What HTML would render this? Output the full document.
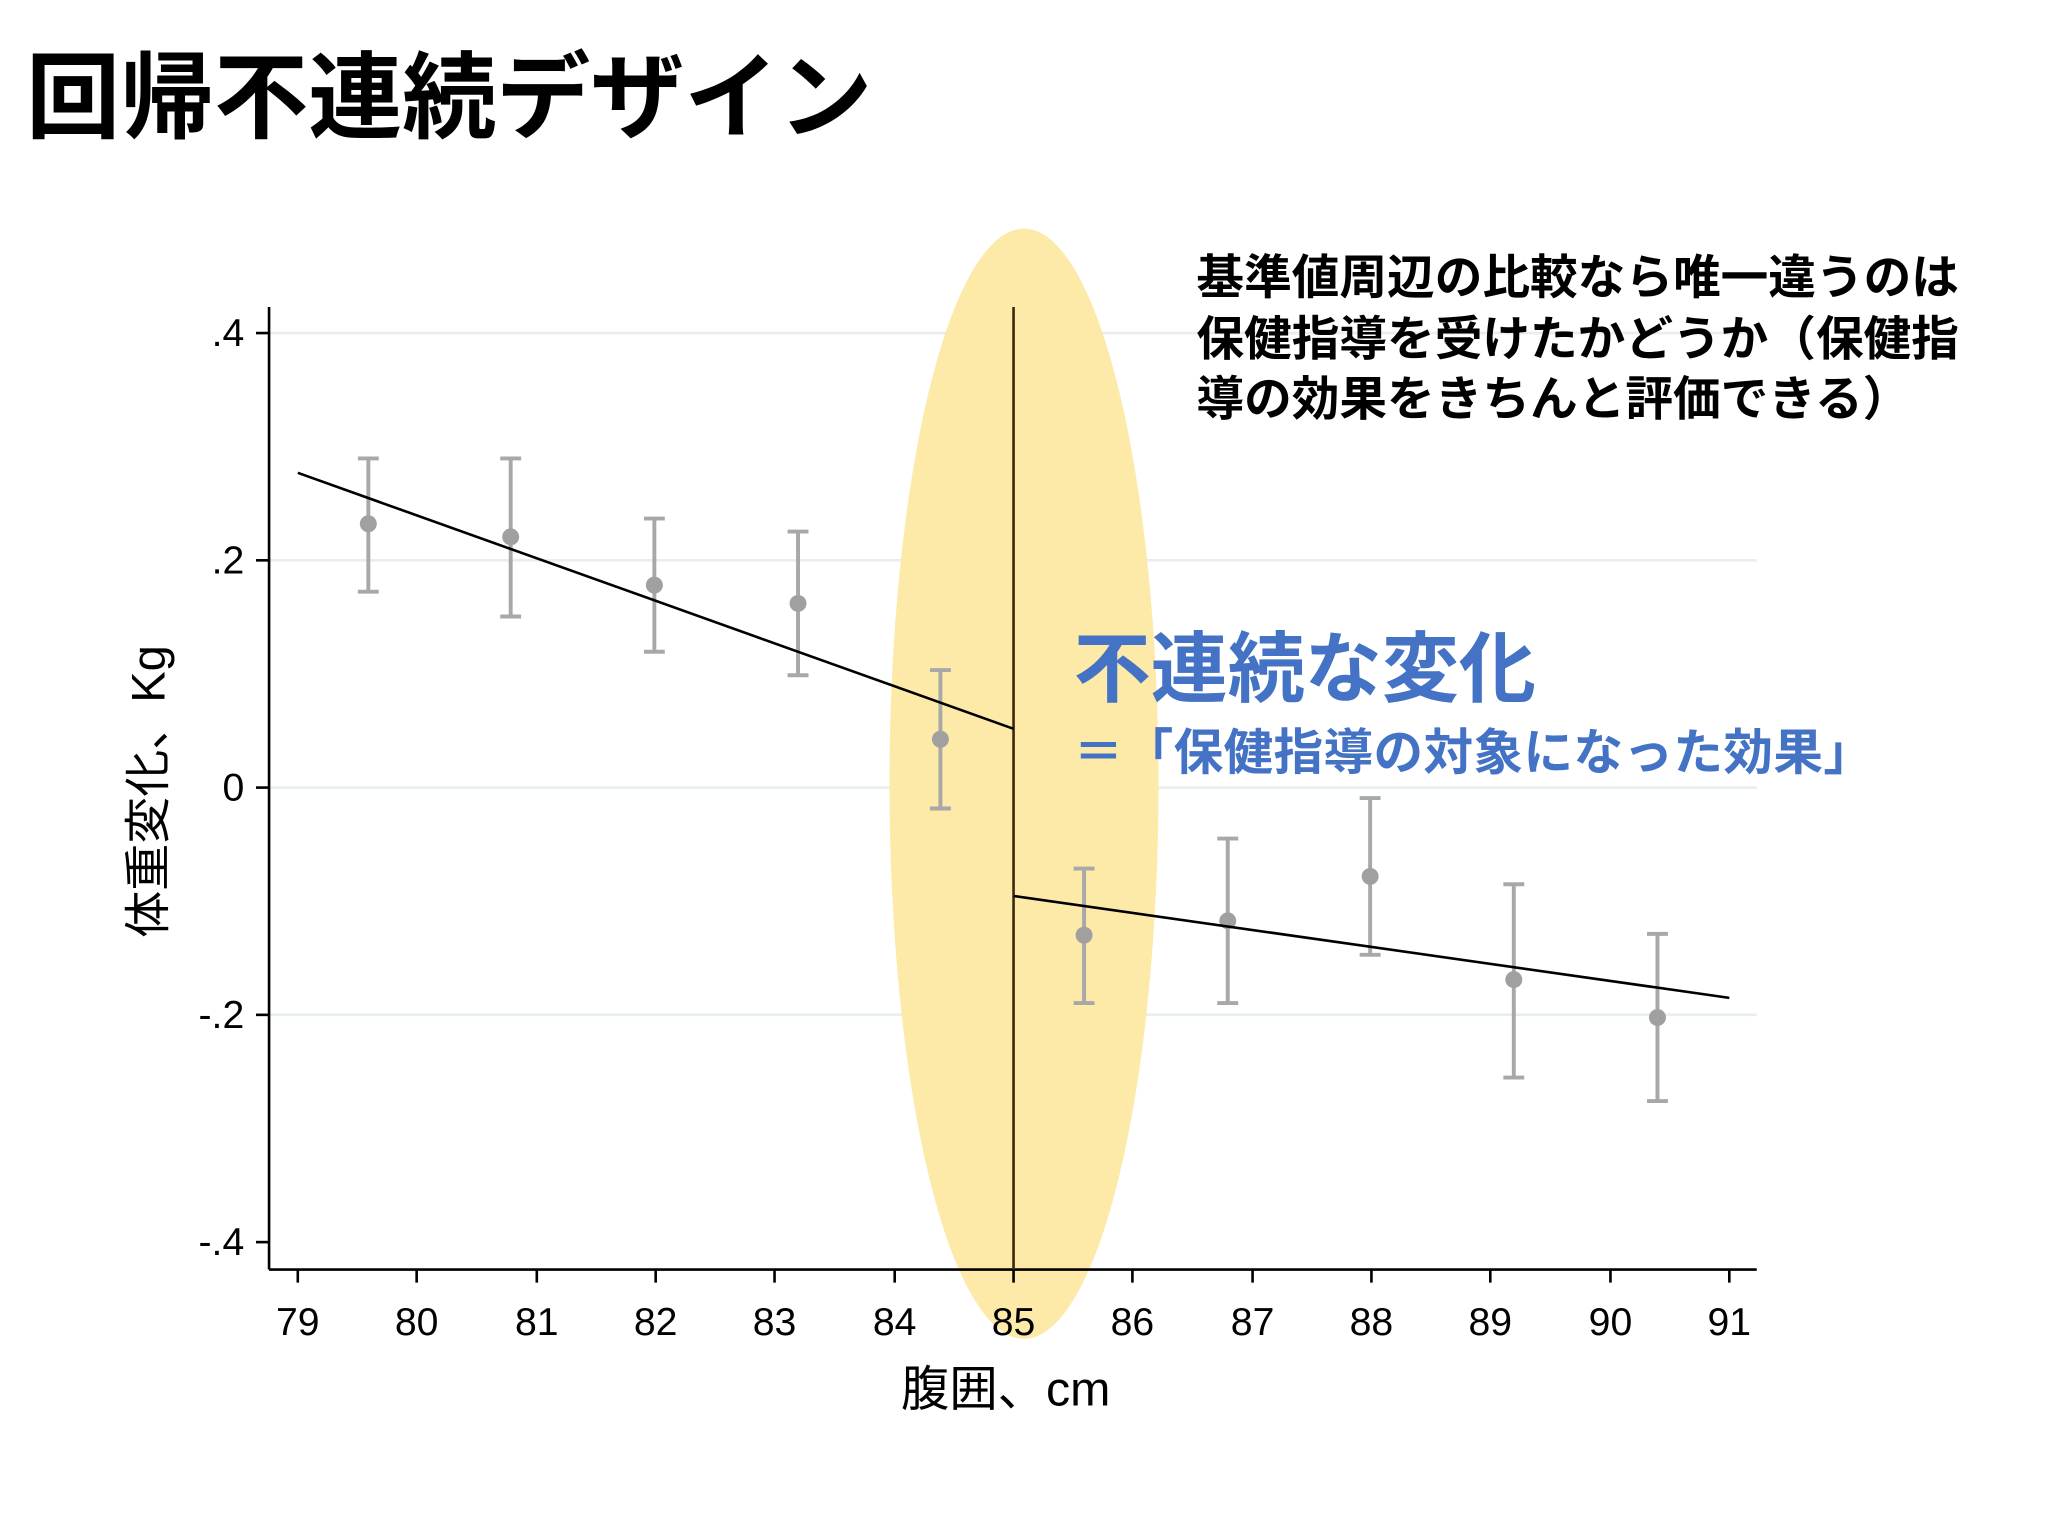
<!DOCTYPE html>
<html><head><meta charset="utf-8"><style>
html,body{margin:0;padding:0;background:#fff;}
svg{display:block;}
text{font-family:"Liberation Sans","Noto Sans CJK JP",sans-serif;}
</style></head><body>
<svg width="2048" height="1536" viewBox="0 0 1568 1176" xmlns="http://www.w3.org/2000/svg">
<rect width="1568" height="1176" fill="#fff"/>
<text x="20" y="100" font-size="72" font-weight="bold" fill="#000">回帰不連続デザイン</text>
<g stroke="#e6eeee" stroke-width="2">
<line x1="206" y1="255" x2="1345" y2="255"/>
<line x1="206" y1="429" x2="1345" y2="429"/>
<line x1="206" y1="603" x2="1345" y2="603"/>
<line x1="206" y1="777" x2="1345" y2="777"/>
</g>
<ellipse cx="784" cy="600" rx="103" ry="425" fill="#fde9a8"/>
<g stroke="#000" stroke-width="2">
<line x1="206" y1="235" x2="206" y2="972"/>
<line x1="206" y1="972" x2="1345" y2="972"/>
<line x1="196" y1="255" x2="206" y2="255"/>
<line x1="196" y1="429" x2="206" y2="429"/>
<line x1="196" y1="603" x2="206" y2="603"/>
<line x1="196" y1="777" x2="206" y2="777"/>
<line x1="196" y1="951" x2="206" y2="951"/>
</g>
<g stroke="#000" stroke-width="2">
<line x1="228" y1="972" x2="228" y2="982"/><line x1="319" y1="972" x2="319" y2="982"/>
<line x1="411" y1="972" x2="411" y2="982"/><line x1="502" y1="972" x2="502" y2="982"/>
<line x1="593" y1="972" x2="593" y2="982"/><line x1="685" y1="972" x2="685" y2="982"/>
<line x1="776" y1="972" x2="776" y2="982"/><line x1="867" y1="972" x2="867" y2="982"/>
<line x1="959" y1="972" x2="959" y2="982"/><line x1="1050" y1="972" x2="1050" y2="982"/>
<line x1="1141" y1="972" x2="1141" y2="982"/><line x1="1233" y1="972" x2="1233" y2="982"/>
<line x1="1324" y1="972" x2="1324" y2="982"/>
</g>
<g font-size="30" fill="#000" text-anchor="end">
<text x="187" y="265">.4</text><text x="187" y="439">.2</text><text x="187" y="613">0</text>
<text x="187" y="787">-.2</text><text x="187" y="961">-.4</text>
</g>
<g font-size="30" fill="#000" text-anchor="middle">
<text x="228" y="1022">79</text><text x="319" y="1022">80</text><text x="411" y="1022">81</text>
<text x="502" y="1022">82</text><text x="593" y="1022">83</text><text x="685" y="1022">84</text>
<text x="776" y="1022">85</text><text x="867" y="1022">86</text><text x="959" y="1022">87</text>
<text x="1050" y="1022">88</text><text x="1141" y="1022">89</text><text x="1233" y="1022">90</text>
<text x="1324" y="1022">91</text>
</g>
<text x="770" y="1076" font-size="37" text-anchor="middle" fill="#000">腹囲、cm</text>
<text transform="translate(126,606) rotate(-90)" font-size="36" text-anchor="middle" fill="#000">体重変化、Kg</text>
<line x1="776" y1="235" x2="776" y2="972" stroke="#3a2a10" stroke-width="2"/>
<g stroke="#a8a8a8" stroke-width="3" fill="none">
<path d="M282 351V453M274 351H290M274 453H290"/>
<path d="M391 351V472M383 351H399M383 472H399"/>
<path d="M501 397V499M493 397H509M493 499H509"/>
<path d="M611 407V517M603 407H619M603 517H619"/>
<path d="M720 513V619M712 513H728M712 619H728"/>
<path d="M830 665V768M822 665H838M822 768H838"/>
<path d="M940 642V768M932 642H948M932 768H948"/>
<path d="M1049 611V731M1041 611H1057M1041 731H1057"/>
<path d="M1159 677V825M1151 677H1167M1151 825H1167"/>
<path d="M1269 715V843M1261 715H1277M1261 843H1277"/>
</g>
<g fill="#a0a0a0">
<circle cx="282" cy="401" r="6.5"/><circle cx="391" cy="411" r="6.5"/><circle cx="501" cy="448" r="6.5"/>
<circle cx="611" cy="462" r="6.5"/><circle cx="720" cy="566" r="6.5"/><circle cx="830" cy="716" r="6.5"/>
<circle cx="940" cy="705" r="6.5"/><circle cx="1049" cy="671" r="6.5"/><circle cx="1159" cy="750" r="6.5"/>
<circle cx="1269" cy="779" r="6.5"/>
</g>
<g stroke="#000" stroke-width="2">
<line x1="228" y1="362" x2="776" y2="558"/>
<line x1="776" y1="686" x2="1324" y2="764"/>
</g>
<g font-size="36.5" font-weight="bold" fill="#000">
<text x="916" y="225">基準値周辺の比較なら唯一違うのは</text>
<text x="916" y="272">保健指導を受けたかどうか（保健指</text>
<text x="916" y="318">導の効果をきちんと評価できる）</text>
</g>
<text x="822" y="533" font-size="59" font-weight="bold" fill="#4472c4">不連続な変化</text>
<text x="822" y="589" font-size="38" font-weight="bold" fill="#4472c4" textLength="612" lengthAdjust="spacing">＝「保健指導の対象になった効果」</text>
</svg>
</body></html>
